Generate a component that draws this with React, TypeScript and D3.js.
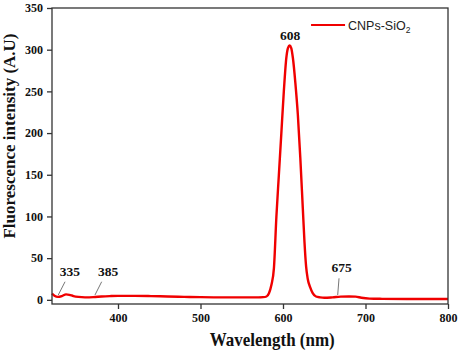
import { useRef, useEffect } from "react";
import * as d3 from "d3";

// spectrum (nm, a.u.)
const wavelength = [
  320, 323, 327, 332, 337, 341, 346, 352, 360, 370, 380, 390, 400, 420, 440, 460, 480, 500,
  520, 540, 560, 570, 576, 580, 583, 586, 589, 592, 595, 598, 601, 604, 606, 608, 610, 612,
  615, 618, 621, 624, 626, 628, 630, 633, 636, 640, 645, 650, 660, 670, 680, 688, 695, 705,
  720, 750, 780, 800,
];
const intensity = [
  7.5, 5, 3.5, 4.5, 6.5, 6, 4.5, 3.5, 3, 3.2, 4, 4.5, 4.8, 4.8, 4.5, 4, 3.6, 3.2,
  3, 3, 3, 3, 3.2, 4, 8, 18, 38, 100, 150, 200, 250, 290, 302, 305, 302, 290,
  260, 222, 170, 110, 70, 40, 25, 15, 8, 4, 3, 2.5, 3, 3.8, 4, 3.8, 2.5, 1.5,
  1.2, 1, 1, 1,
];

const seriesName = "CNPs-SiO";
const xTicks = [400, 500, 600, 700, 800];
const yTicks = [0, 50, 100, 150, 200, 250, 300, 350];

// peak annotations: label, label anchor (nm, value), leader line from/to (nm, value)
const peakLabels = ["608", "335", "385", "675"];
const labelAt: [number, number][] = [[608.5, 312], [341.8, 28.6], [387.9, 28.6], [671.2, 33.7]];
const leaderFrom: ([number, number] | null)[] = [null, [335.8, 21.7], [380.2, 21.7], [667.9, 25.8]];
const leaderTo: ([number, number] | null)[] = [null, [327.6, 5.8], [372.1, 5.8], [666.3, 5.8]];

const W = 460;
const H = 353;

export default function App() {
  const svgRef = useRef<SVGSVGElement>(null);

  useEffect(() => {
    if (!svgRef.current) return;
    const svg = d3.select(svgRef.current);
    svg.selectAll("*").remove();

    const margin = { top: 8, right: 12, bottom: 49, left: 52 };
    const innerW = W - margin.left - margin.right;
    const innerH = H - margin.top - margin.bottom;
    const serif = "'Liberation Serif', 'Times New Roman', serif";
    const sans = "'Liberation Sans', Arial, sans-serif";
    const red = "#f00000";
    const axisColor = "#333";

    const x = d3.scaleLinear().domain([320, 800]).range([0, innerW]);
    const y = d3.scaleLinear().domain([-5, 350]).range([innerH, 0]);

    const g = svg.append("g").attr("transform", `translate(${margin.left},${margin.top})`);

    // curve
    const line = d3
      .line<number>()
      .x((_, i) => x(wavelength[i]))
      .y((d) => y(d))
      .curve(d3.curveMonotoneX);

    g.append("path")
      .datum(intensity)
      .attr("d", line)
      .attr("fill", "none")
      .attr("stroke", red)
      .attr("stroke-width", 2.4)
      .attr("stroke-linejoin", "round");

    // frame
    g.append("rect")
      .attr("width", innerW)
      .attr("height", innerH)
      .attr("fill", "none")
      .attr("stroke", axisColor)
      .attr("stroke-width", 1.3);

    // x axis
    g.append("g")
      .attr("transform", `translate(0,${innerH})`)
      .call(d3.axisBottom(x).tickValues(xTicks).tickSize(5).tickPadding(4))
      .call((a) => a.select(".domain").remove())
      .call((a) => a.selectAll("line").attr("stroke", axisColor).attr("stroke-width", 1.3))
      .selectAll("text")
      .attr("fill", "#111")
      .attr("font-size", 12)
      .attr("font-weight", "bold")
      .attr("font-family", serif);

    // y axis
    g.append("g")
      .call(d3.axisLeft(y).tickValues(yTicks).tickSize(5).tickPadding(4))
      .call((a) => a.select(".domain").remove())
      .call((a) => a.selectAll("line").attr("stroke", axisColor).attr("stroke-width", 1.3))
      .selectAll("text")
      .attr("fill", "#111")
      .attr("font-size", 12)
      .attr("font-weight", "bold")
      .attr("font-family", serif);

    // axis titles (the source figure is slightly stretched vertically)
    svg.append("text")
      .attr("transform", `translate(${margin.left + x(587)},346) scale(1,1.15)`)
      .attr("text-anchor", "middle")
      .attr("font-family", serif)
      .attr("font-weight", "bold")
      .attr("font-size", 17)
      .attr("fill", "#111")
      .text("Wavelength (nm)");

    svg.append("text")
      .attr("transform", `translate(15,136) rotate(-90)`)
      .attr("text-anchor", "middle")
      .attr("font-family", serif)
      .attr("font-weight", "bold")
      .attr("font-size", 17)
      .attr("fill", "#111")
      .text("Fluorescence intensity (A.U)");

    // peak labels + leader lines
    peakLabels.forEach((lab, i) => {
      const f = leaderFrom[i];
      const t = leaderTo[i];
      if (f && t) {
        g.append("line")
          .attr("x1", x(f[0]))
          .attr("y1", y(f[1]))
          .attr("x2", x(t[0]))
          .attr("y2", y(t[1]))
          .attr("stroke", "#777")
          .attr("stroke-width", 1);
      }
      g.append("text")
        .attr("x", x(labelAt[i][0]))
        .attr("y", y(labelAt[i][1]))
        .attr("text-anchor", "middle")
        .attr("font-family", serif)
        .attr("font-weight", "bold")
        .attr("font-size", 13.5)
        .attr("fill", "#111")
        .text(lab);
    });

    // legend
    const lg = g.append("g").attr("transform", `translate(${x(634)},${17})`);
    lg.append("line")
      .attr("x1", 0)
      .attr("x2", 34)
      .attr("stroke", red)
      .attr("stroke-width", 2);
    const lt = lg.append("text")
      .attr("x", 37)
      .attr("y", 4.5)
      .attr("font-family", sans)
      .attr("font-size", 12.5)
      .attr("fill", "#222")
      .text(seriesName);
    lt.append("tspan").attr("font-size", 8.5).attr("dy", 3).text("2");
  }, []);

  return (
    <svg
      ref={svgRef}
      width={W}
      height={H}
      style={{ position: "absolute", left: 0, top: 0, background: "#fff" }}
    />
  );
}
